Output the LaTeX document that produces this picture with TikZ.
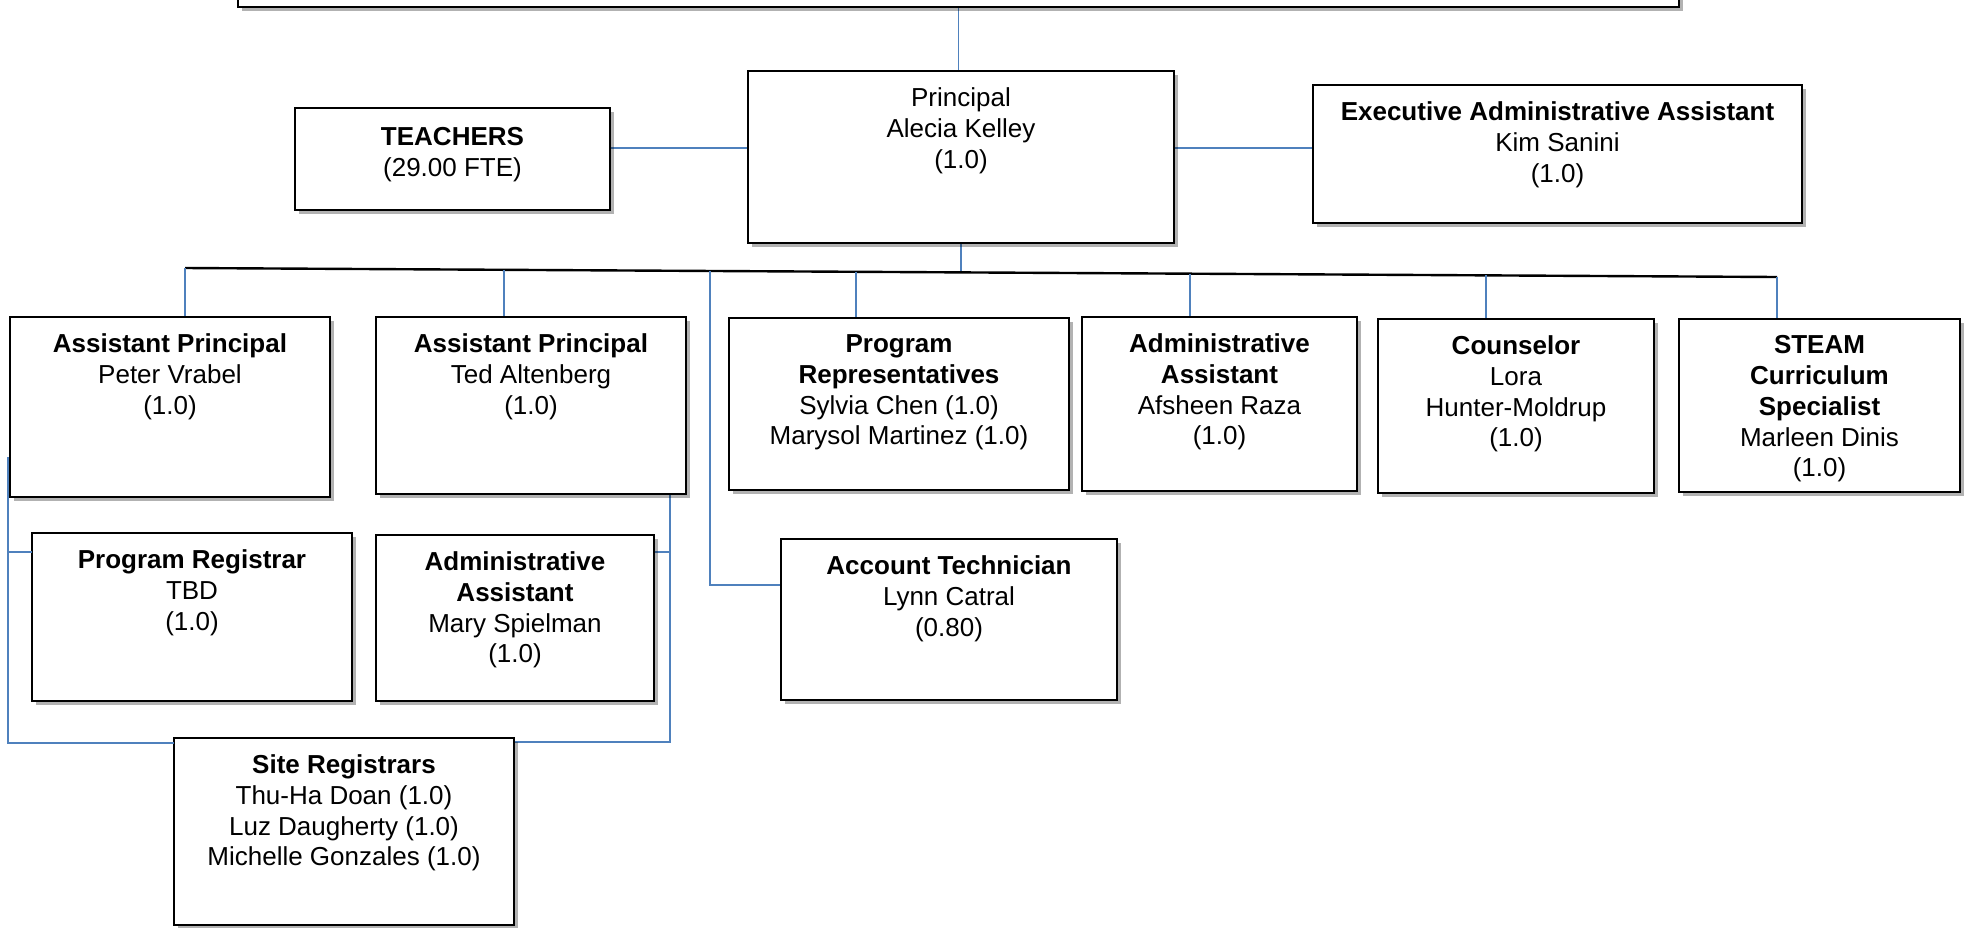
\documentclass[tikz,border=0pt]{standalone}
\usepackage{fontspec}
\setmainfont{Liberation Sans}
\usetikzlibrary{shadows,calc,backgrounds}
\definecolor{connblue}{RGB}{79,129,189}
\tikzset{
  obox/.style={draw=black, line width=1.1pt, fill=white, inner sep=0pt, outer sep=0pt,
    drop shadow={shadow xshift=2pt, shadow yshift=-2pt, opacity=0.3, fill=black}},
  otext/.style={inner sep=0pt, align=center, font=\fontsize{13}{15.35}\selectfont},
  conn/.style={draw=connblue, line width=0.85pt},
  connthick/.style={draw=connblue, line width=1.2pt},
  busline/.style={draw=black, line width=1.2pt},
}
% #1 text offset, #2 name, #3 x1, #4 y1, #5 x2, #6 y2, #7 text
\newcommand\obox[7][8.2pt]{%
  \node[obox, minimum width={(#5-#3)*0.5pt}, minimum height={(#6-#4)*0.5pt}] (#2) at ({(#3+#5)/2},{(#4+#6)/2}) {};
  \node[otext, anchor=north] (#2-t) at ([yshift=-#1]#2.north) {#7};
}
\begin{document}
\begin{tikzpicture}[x=0.5pt, y=-0.5pt]
\useasboundingbox (0,0) rectangle (1965,927);

\node[obox, minimum width={(1679-238)*0.5pt}, minimum height={44*0.5pt}] (top) at (958.5,-15) {};

\obox[9.5pt]{teachers}{295}{108}{610}{210}{\textbf{TEACHERS}\\(29.00 FTE)}
\obox{principal}{748}{71}{1174}{243}{Principal\\Alecia Kelley\\(1.0)}
\obox{exec}{1313}{85}{1802}{223}{\textbf{Executive Administrative Assistant}\\Kim Sanini\\(1.0)}

\obox{ap1}{10}{317}{330}{497}{\textbf{Assistant Principal}\\Peter Vrabel\\(1.0)}
\obox{ap2}{376}{317}{686}{494}{\textbf{Assistant Principal}\\Ted Altenberg\\(1.0)}
\obox{progrep}{729}{318}{1069}{490}{\textbf{Program}\\\textbf{Representatives}\\Sylvia Chen (1.0)\\Marysol Martinez (1.0)}
\obox{admin}{1082}{317}{1357}{491}{\textbf{Administrative}\\\textbf{Assistant}\\Afsheen Raza\\(1.0)}
\obox{couns}{1378}{319}{1654}{493}{\textbf{Counselor}\\Lora\\Hunter-Moldrup\\(1.0)}
\obox{steam}{1679}{319}{1960}{492}{\textbf{STEAM}\\\textbf{Curriculum}\\\textbf{Specialist}\\Marleen Dinis\\(1.0)}

\obox{pr}{32}{533}{352}{701}{\textbf{Program Registrar}\\TBD\\(1.0)}
\obox{mary}{376}{535}{654}{701}{\textbf{Administrative}\\\textbf{Assistant}\\Mary Spielman\\(1.0)}
\obox{acct}{781}{539}{1117}{700}{\textbf{Account Technician}\\Lynn Catral\\(0.80)}
\obox{site}{174}{738}{514}{925}{\textbf{Site Registrars}\\Thu-Ha Doan (1.0)\\Luz Daugherty (1.0)\\Michelle Gonzales (1.0)}

\coordinate (lvl) at (0,148);
\coordinate (busL) at (185,268);
\coordinate (busR) at (1777,277);
\coordinate (dAP2) at ($(busL)!0.2004!(busR)$);
\coordinate (dAcc) at ($(busL)!0.3298!(busR)$);
\coordinate (dPR) at ($(busL)!0.4215!(busR)$);
\coordinate (dPri) at ($(busL)!0.4874!(busR)$);
\coordinate (dAdm) at ($(busL)!0.6313!(busR)$);
\coordinate (dCou) at ($(busL)!0.8172!(busR)$);
\coordinate (lb) at ([xshift=-1pt,yshift=20pt]ap1.south west);
\coordinate (lbs) at ([yshift=-2.5pt]site.north west);
\coordinate (prb) at ([yshift=-9.5pt]pr.north west);
\coordinate (rb) at ([xshift=-8pt]ap2.south east);
\coordinate (rbs) at ([yshift=-2pt]site.north east);
\coordinate (mb) at ([yshift=-8.5pt]mary.north east);
\coordinate (acb) at ([yshift=-23pt]acct.north west);

\begin{scope}[on background layer]
  \fill[white] (0,0) rectangle (1965,927);
  \draw[conn] (top.south) -- (top.south |- principal.north);
  \draw[connthick] (teachers.east |- lvl) -- (principal.west |- lvl);
  \draw[connthick] (principal.east |- lvl) -- (exec.west |- lvl);
  \draw[conn] (principal.south) -- (dPri);
  \draw[busline] (busL) -- (busR);
  \draw[conn] (busL) -- (busL |- ap1.north);
  \draw[conn] (dAP2) -- (dAP2 |- ap2.north);
  \draw[conn] (dPR) -- (dPR |- progrep.north);
  \draw[conn] (dAdm) -- (dAdm |- admin.north);
  \draw[conn] (dCou) -- (dCou |- couns.north);
  \draw[conn] (busR) -- (busR |- steam.north);
  \draw[conn] (dAcc) |- (acb);
  \draw[conn] (rb) |- (rbs);
  \draw[conn] (mb) -- (mb -| rb);
\end{scope}
\draw[conn] (lb) |- (lbs);
\draw[conn] (prb) -- (prb -| lb);
\end{tikzpicture}
\end{document}
